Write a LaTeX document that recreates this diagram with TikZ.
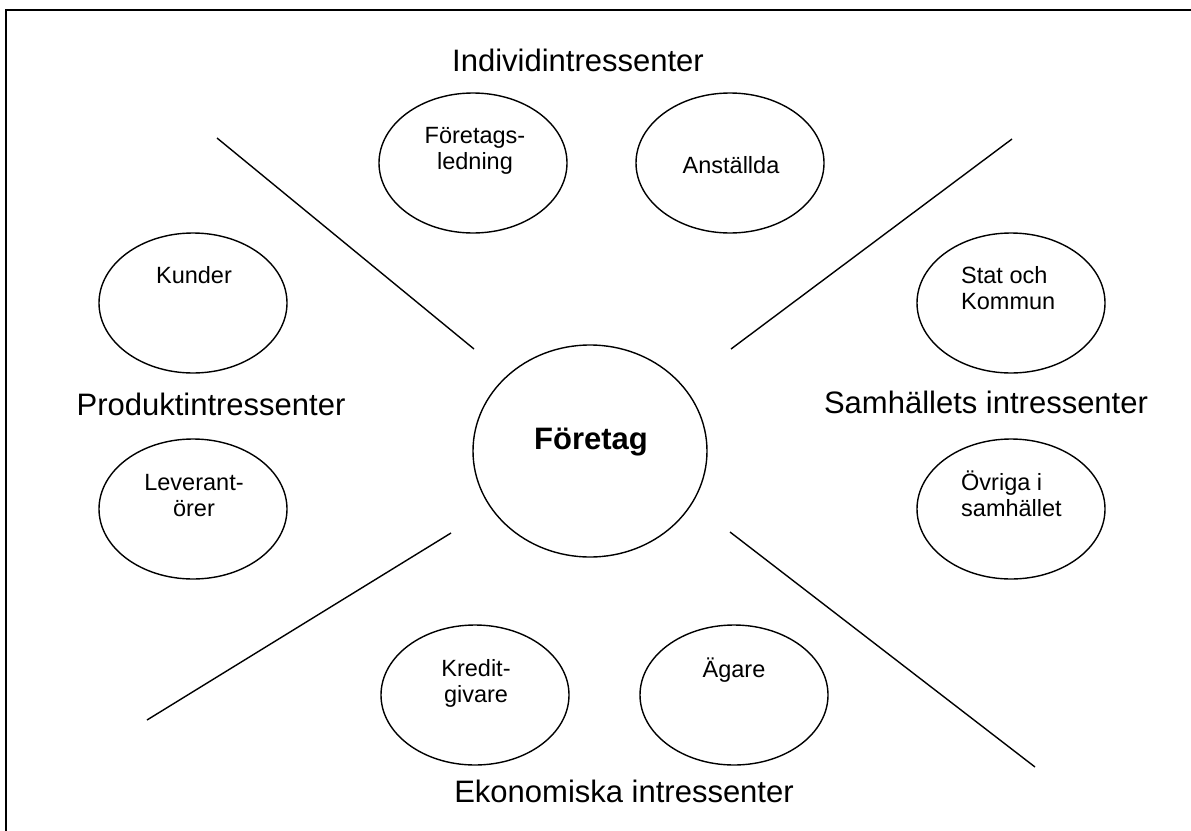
\documentclass[tikz,border=0pt]{standalone}
\usepackage{fontspec}
\setmainfont{Liberation Sans}
\usetikzlibrary{shapes.geometric}
\begin{document}
\begin{tikzpicture}[x=1pt,y=-1pt,
  party/.style={draw,line width=1.4pt,ellipse,inner sep=0pt,minimum width=188pt,minimum height=140pt},
  core/.style={draw,line width=1.4pt,ellipse,inner sep=0pt,minimum width=234pt,minimum height=212pt},
  small/.style={inner sep=0pt,anchor=base,align=center,font=\fontsize{23.5}{26}\selectfont},
  smallleft/.style={inner sep=0pt,anchor=base west,align=left,font=\fontsize{23.5}{26}\selectfont},
  group/.style={inner sep=0pt,anchor=base,font=\fontsize{31}{36}\selectfont},
  divider/.style={line width=1.4pt}]
\useasboundingbox (0,0) rectangle (1191,830);
% frame (only its top and left sides fall inside the page)
\draw[line width=2.5pt] (1300,10) -- (6,10) -- (6,900);

% the company in the middle
\node[core] (ftg) at (590,451) {};
\node[inner sep=0pt,anchor=base,font=\fontsize{31}{36}\selectfont\bfseries] (ftgtext) at (591,449) {Företag};

% stakeholders (two-line labels are placed by the baseline of their last line)
\node[party] (fl) at (473,163) {};
\node[small] (fltext) at (475,169) {Företags-\\ledning};
\node[party] (an) at (730,163) {};
\node[small] (antext) at (731,173) {Anställda};
\node[party] (sk) at (1011,303) {};
\node[smallleft] (sktext) at (961,309) {Stat och\\Kommun};
\node[party] (os) at (1011,509) {};
\node[smallleft] (ostext) at (961,516) {Övriga i\\samhället};
\node[party] (ku) at (193,303) {};
\node[small] (kutext) at (194,283) {Kunder};
\node[party] (le) at (193,509) {};
\node[small] (letext) at (194,516) {Leverant-\\örer};
\node[party] (kg) at (475,695) {};
\node[small] (kgtext) at (476,702) {Kredit-\\givare};
\node[party] (ag) at (734,695) {};
\node[small] (agtext) at (734,677) {Ägare};

% group headings
\node[group] (ind) at (578,71) {Individintressenter};
\node[group] (prod) at (211,415) {Produktintressenter};
\node[group] (sam) at (986,413) {Samhällets intressenter};
\node[group] (eko) at (624,802) {Ekonomiska intressenter};

% dividing lines between the groups
\coordinate (ulA) at (217,138); \coordinate (ulB) at (474,349);
\coordinate (urA) at (1012,139); \coordinate (urB) at (731,349);
\coordinate (llA) at (451,533); \coordinate (llB) at (147,720);
\coordinate (lrA) at (730,532); \coordinate (lrB) at (1035,767);
\draw[divider] (ulA) -- (ulB);
\draw[divider] (urA) -- (urB);
\draw[divider] (llA) -- (llB);
\draw[divider] (lrA) -- (lrB);
\end{tikzpicture}
\end{document}
